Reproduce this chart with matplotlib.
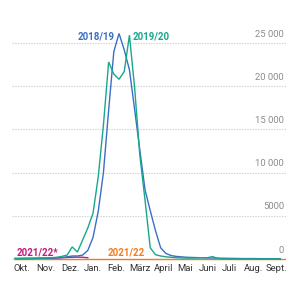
import matplotlib
matplotlib.use("Agg")
import matplotlib.pyplot as plt
import matplotlib.transforms as mtransforms

# ---- data (weekly values, week 40 -> week 39) ----
months = ["Okt.", "Nov.", "Dez.", "Jan.", "Feb.", "März", "April", "Mai", "Juni", "Juli", "Aug.", "Sept."]
month_pos = [1.35, 5.95, 10.6, 15.0, 19.4, 24.0, 28.5, 32.7, 37.1, 41.3, 45.8, 50.2]

y_ticks = [0, 5000, 10000, 15000, 20000, 25000]
y_tick_labels = ["0", "5000", "10 000", "15 000", "20 000", "25 000"]

s1819 = [60, 60, 70, 70, 80, 90, 100, 110, 130, 160, 250, 350, 350, 450, 1000, 2500,
         5500, 10000, 17200, 24000, 26100, 24200, 21900, 17300, 12600, 8000, 5600, 3300,
         1300, 650, 400, 300, 250, 200, 180, 160, 140, 120, 110, 100, 90, 80, 70, 60,
         50, 50, 50, 40, 40, 40, 40, 40]
s1920 = [60, 60, 70, 80, 90, 100, 120, 150, 200, 300, 450, 1400, 800, 2200, 3600, 5300,
         9500, 15500, 22800, 21400, 20800, 21700, 25900, 19800, 12000, 6800, 1300, 500,
         350, 250, 200, 150, 120, 100, 100, 120, 150, 150, 280, 50, 0, 0, 0, 0,
         0, 0, 0, 0, 0, 0, 0, 0]
s2122_star = [50, 50, 60, 60, 70, 80, 90, 100, 120, 150, 180, 200, 220, 200, 150]
s2122 = [10] * 53

series = [
    ("2021/22", s2122, "#f07d1f"),
    ("2021/22*", s2122_star, "#c4187c"),
    ("2018/19", s1819, "#3a6fc2"),
    ("2019/20", s1920, "#16a88b"),
]

# ---- figure ----
W, H = 300, 300
fig = plt.figure(figsize=(3, 3), dpi=100)
ax = fig.add_axes([12 / W, (H - 262) / H, 274 / W, 242 / H])
ax.set_xlim(-0.577, 52.1)
ax.set_ylim(-347, 27662)
for s in ax.spines.values():
    s.set_visible(False)
ax.set_xticks([])
ax.set_yticks([])

fam = ["Roboto", "DejaVu Sans"]

for v in y_ticks:
    ax.axhline(v, color="#cfcfcf", lw=0.8, ls=(0, (1.2, 1.2)), zorder=0)
trans = mtransforms.blended_transform_factory(ax.transAxes, ax.transData)
for v, lab in zip(y_ticks, y_tick_labels):
    ax.text(0.993, v + 500, lab, transform=trans, ha="right", va="bottom",
            fontsize=6.8, color="#8c8c8c", family=fam)

for name, vals, col in series:
    ax.plot(range(len(vals)), vals, color=col, lw=1.0, solid_joinstyle="miter", zorder=2)

ax.text(19.2, 25800, "2018/19", color="#3a6fc2", ha="right", va="center",
        fontsize=7, fontweight="bold", family=fam)
ax.text(22.7, 25800, "2019/20", color="#16a88b", ha="left", va="center",
        fontsize=7, fontweight="bold", family=fam)
ax.text(0.3, 800, "2021/22*", color="#c4187c", ha="left", va="center",
        fontsize=7, fontweight="bold", family=fam)
ax.text(17.8, 700, "2021/22", color="#f07d1f", ha="left", va="center",
        fontsize=7, fontweight="bold", family=fam)

for p, m in zip(month_pos, months):
    ax.text(p, -1150, m, ha="center", va="center", fontsize=6.8, color="#333333",
            family=fam, clip_on=False)

fig.savefig("out.png", dpi=100)
